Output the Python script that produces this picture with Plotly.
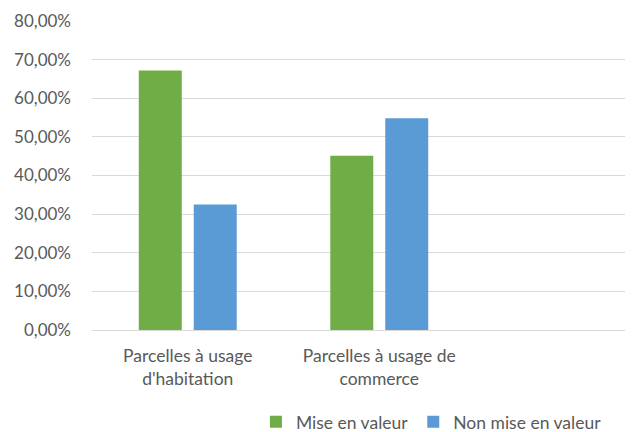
import plotly.graph_objects as go

categories = ["Parcelles à usage<br>d'habitation", "Parcelles à usage de<br>commerce"]
mise_en_valeur = [0.672, 0.451]
non_mise_en_valeur = [0.325, 0.548]
y_ticks = [0, 0.1, 0.2, 0.3, 0.4, 0.5, 0.6, 0.7, 0.8]

FONT = "Lato"
GRAY = "#595959"

fig = go.Figure()
fig.add_trace(go.Bar(x=categories, y=mise_en_valeur, name="Mise en valeur",
                     marker=dict(color="#70AD47", line=dict(width=0))))
fig.add_trace(go.Bar(x=categories, y=non_mise_en_valeur, name="Non mise en valeur",
                     marker=dict(color="#5B9BD5", line=dict(width=0))))

fig.update_layout(
    width=625, height=424,
    margin=dict(l=84, r=0, t=13, b=102, autoexpand=False),
    paper_bgcolor="white", plot_bgcolor="white",
    separators=", ",
    barmode="group", bargap=0.426, bargroupgap=0.218,
    font=dict(family=FONT, color=GRAY, size=17),
    showlegend=True,
    legend=dict(orientation="h", xref="paper", yref="container",
                x=0.303, xanchor="left", y=0.024, yanchor="middle",
                font=dict(size=17.5, color=GRAY), itemwidth=30,
                traceorder="normal"),
)
fig.update_xaxes(type="category", range=[-0.5, 2.325], showgrid=False,
                 showline=True, linecolor="#D9D9D9", linewidth=1,
                 ticks="", automargin=False, ticklabelstandoff=10,
                 tickfont=dict(size=17.5, color=GRAY))
fig.update_yaxes(range=[0, 0.8], tickvals=y_ticks, tickformat=".2%",
                 showgrid=True, gridcolor="#D9D9D9", gridwidth=1,
                 zeroline=False, showline=False, ticks="",
                 ticklabelstandoff=20, automargin=False,
                 tickfont=dict(size=17, color=GRAY))

fig.write_html("out.html")
